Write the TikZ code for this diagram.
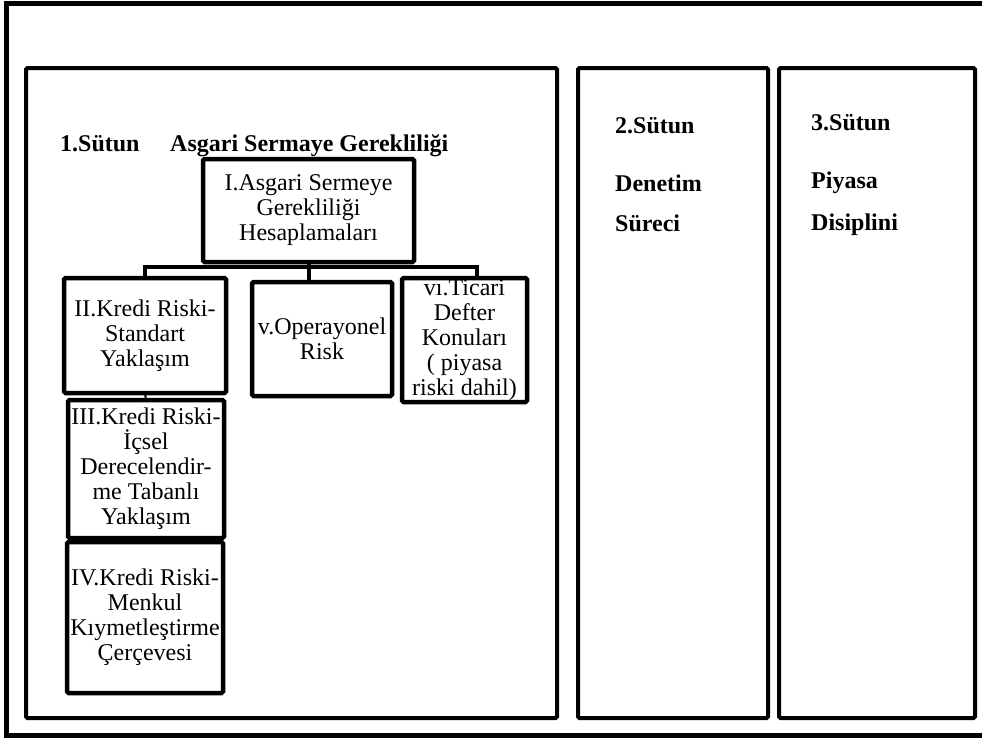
\documentclass[tikz,border=0pt]{standalone}
\usepackage{fontspec}
\setmainfont{Liberation Serif}
\usetikzlibrary{positioning}

\begin{document}
\begin{tikzpicture}[x=1pt, y=-1pt,
    pillar/.style={draw, line width=4pt, rounded corners=1.5pt, inner sep=0pt, outer sep=0pt},
    box/.style={draw, line width=4.5pt, rounded corners=1.5pt, inner sep=0pt, outer sep=0pt,
      align=center, font=\fontsize{24}{25}\selectfont},
    head/.style={anchor=base west, inner sep=0pt, font=\fontsize{24}{25}\selectfont\bfseries},
    link/.style={line width=4pt}]
    \useasboundingbox (0,0) rectangle (982,740);
    \clip (0,0) rectangle (982,740);

    % frame and the three pillars
    \draw[line width=5pt] (6,3) rectangle (995,735);
    \node[pillar, minimum width=531pt, minimum height=650pt] (col1) at (291.5,393) {};
    \node[pillar, minimum width=190pt, minimum height=650pt] (col2) at (673,393) {};
    \node[pillar, minimum width=196pt, minimum height=650pt] (col3) at (877,393) {};

    % pillar titles
    \node[head] (t1) at (60,151) {1.Sütun};
    \node[head] (t1b) at (170,151) {Asgari Sermaye Gerekliliği};
    \node[head] (t2) at (615,133) {2.Sütun};
    \node[head] (t2a) at (615,191) {Denetim};
    \node[head] (t2b) at (615,231) {Süreci};
    \node[head] (t3) at (811,130) {3.Sütun};
    \node[head] (t3a) at (811,188) {Piyasa};
    \node[head] (t3b) at (811,230) {Disiplini};

    % first pillar
    \node[box, minimum width=211pt, minimum height=103pt] (I) at (308.5,210.5)
      {I.Asgari Sermeye\\Gerekliliği\\Hesaplamaları};
    \node[box, minimum width=162pt, minimum height=115pt] (II) at (145,335.5)
      {II.Kredi Riski-\\Standart\\Yaklaşım};
    \node[box, minimum width=140pt, minimum height=114pt] (v) at (322,339)
      {v.Operayonel\\Risk};
    \node[box, minimum width=125pt, minimum height=124pt] (vi) at (464.5,340)
      {vı.Ticari\\Defter\\Konuları\\( piyasa\\riski dahil)};
    \node[box, minimum width=156pt, minimum height=138pt] (III) at (146,469)
      {III.Kredi Riski-\\İçsel\\Derecelendir-\\me Tabanlı\\Yaklaşım};
    \node[box, minimum width=156pt, minimum height=151pt] (IV) at (145,617.5)
      {IV.Kredi Riski-\\Menkul\\Kıymetleştirme\\Çerçevesi};

    \draw[link] (I.south) -- ++(0,5) coordinate (j);
    \draw[link] (II.north) |- (j);
    \draw[link] (j) -- (j |- v.north);
    \draw[link] (j) -| ([xshift=12.5pt]vi.north);
    \draw[line width=2pt] (II.south) -- (III.north);
\end{tikzpicture}
\end{document}
